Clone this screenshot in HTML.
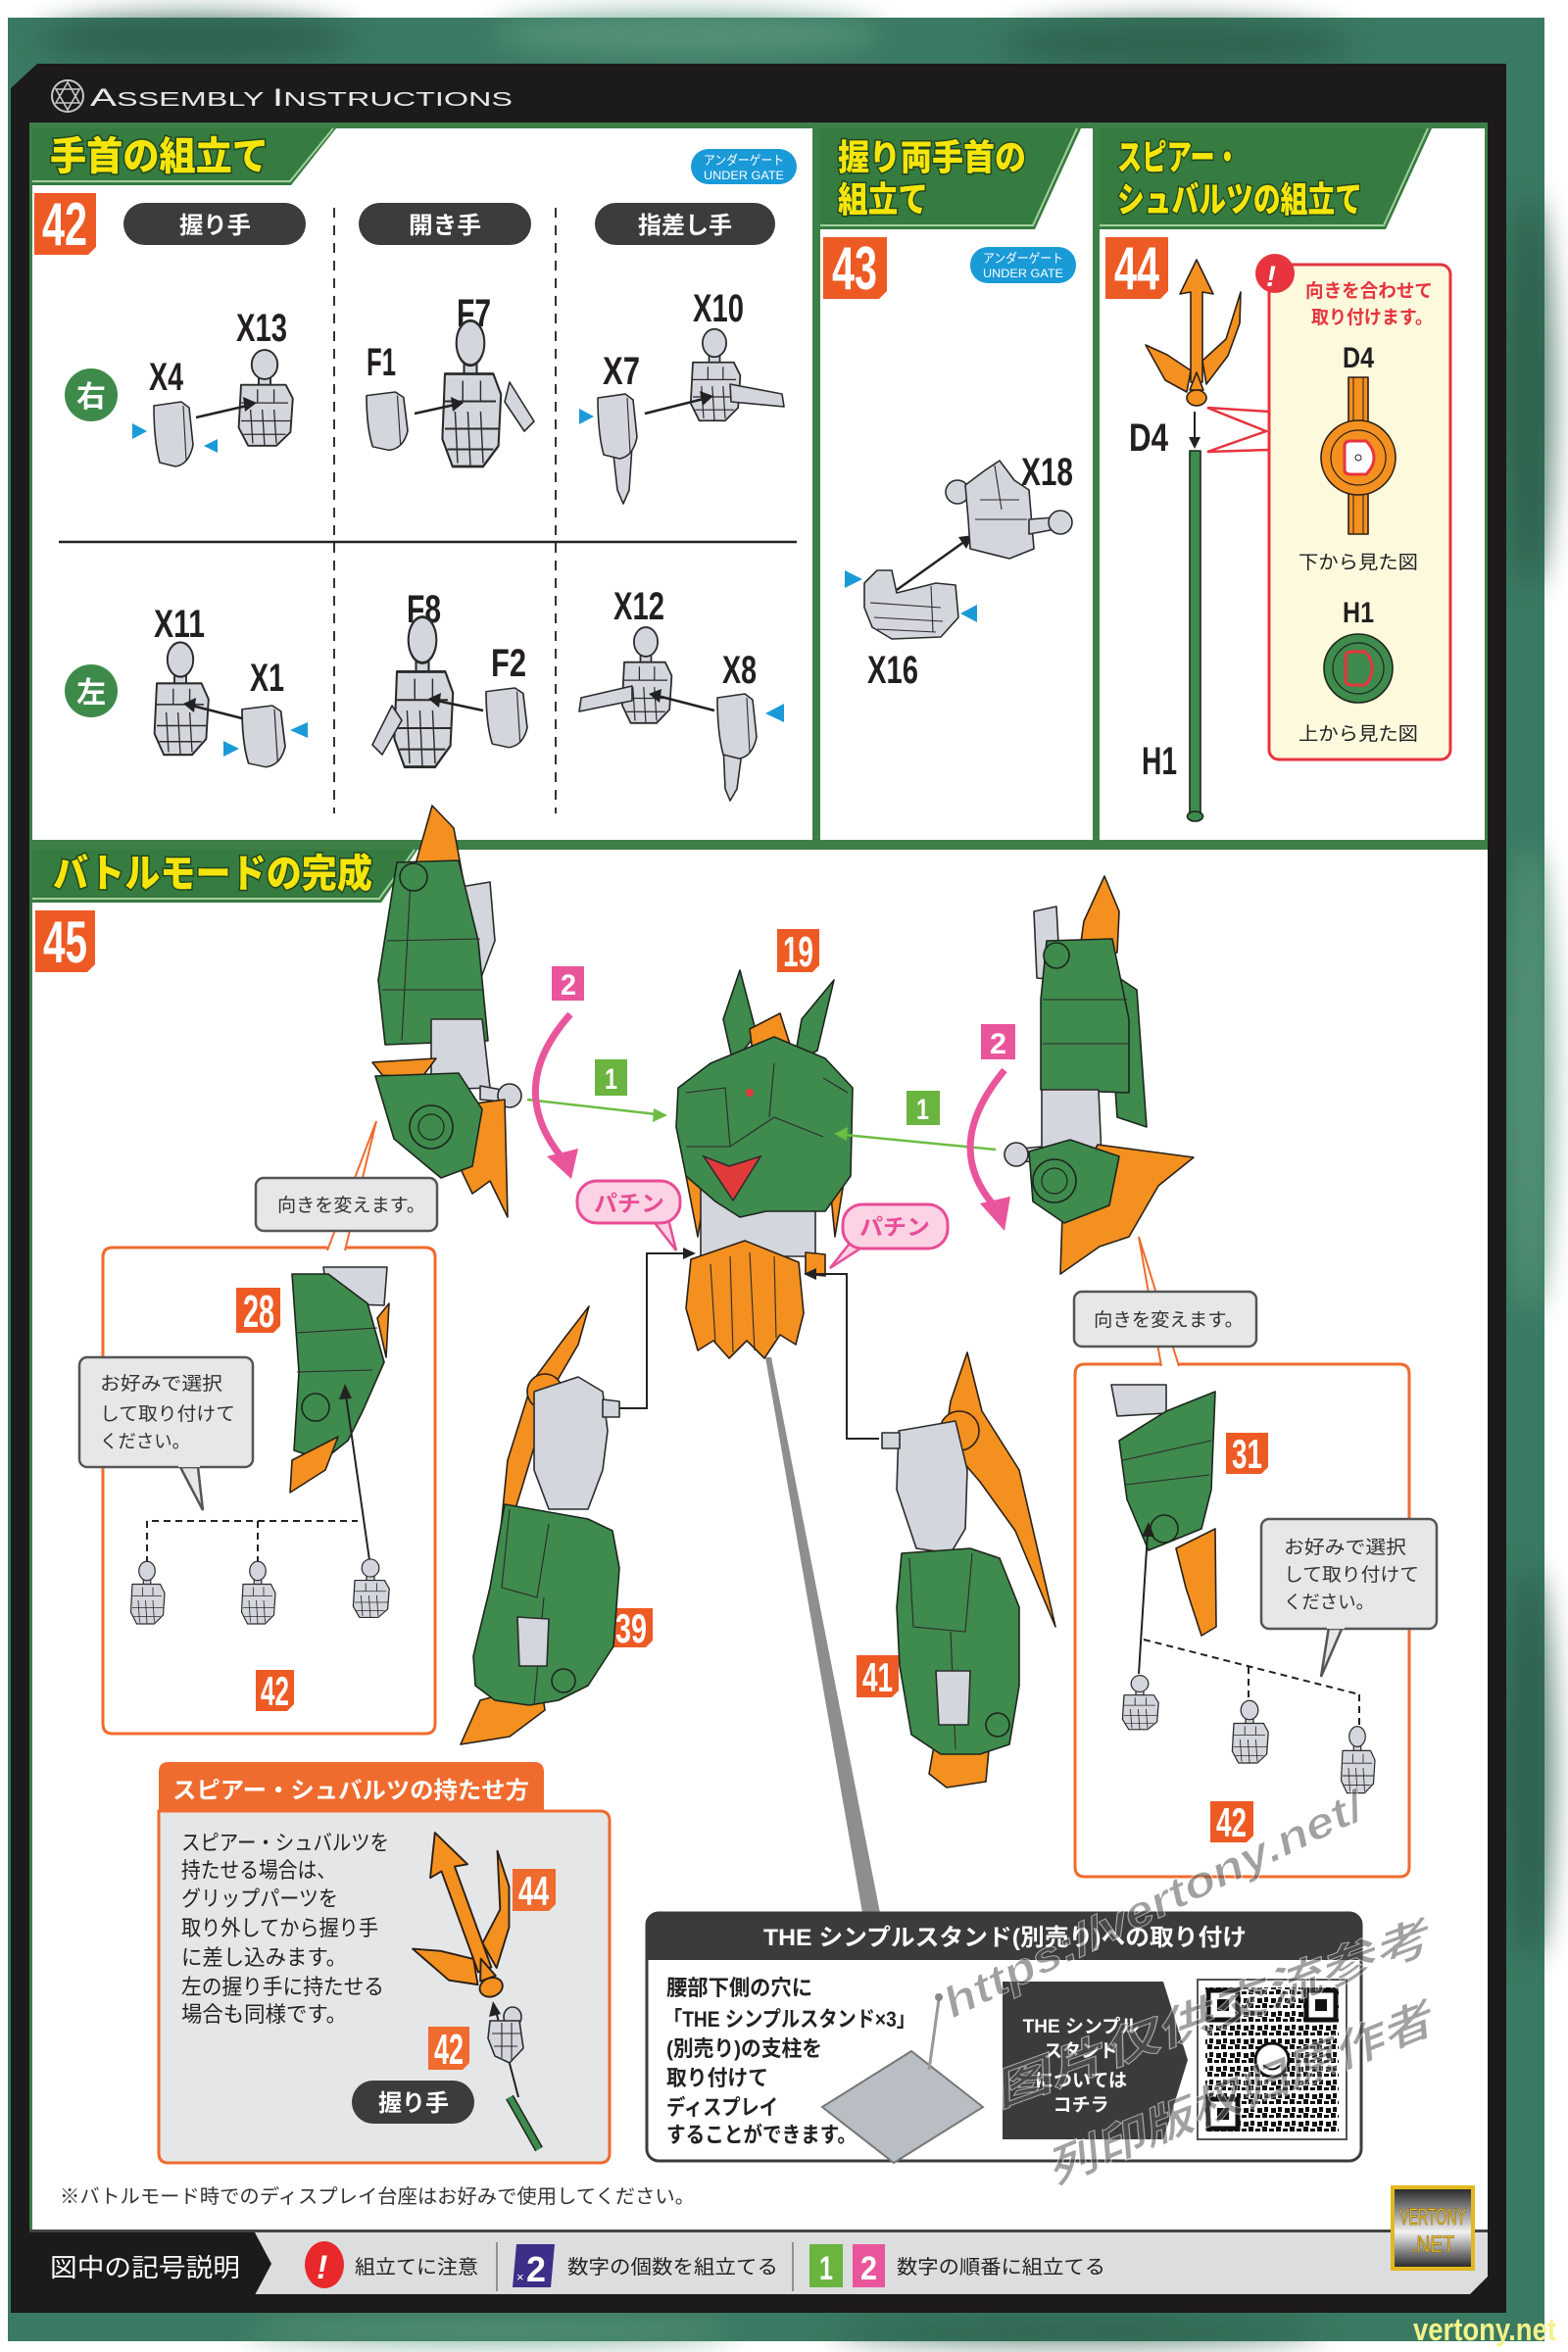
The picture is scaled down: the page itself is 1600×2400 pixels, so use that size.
<!DOCTYPE html>
<html><head><meta charset="utf-8">
<style>
html,body{margin:0;padding:0;background:#fff}
svg{display:block}
text{font-family:"Liberation Sans","Noto Sans CJK JP",sans-serif}
.g{fill:#d3d6dc;stroke:#2b2b2b;stroke-width:1.6;stroke-linejoin:round}
.gr{fill:#3f8a4d;stroke:#1c261d;stroke-width:1.6;stroke-linejoin:round}
.or{fill:#f3901f;stroke:#2b2016;stroke-width:1.6;stroke-linejoin:round}
.ln{fill:none;stroke:#2b2b2b;stroke-width:1.1}
.t{fill:#f5e50b;stroke:#1d4620;stroke-width:3;paint-order:stroke;font-family:"Noto Sans CJK JP",sans-serif;font-weight:900}
.lab{font-size:40px;fill:#231f20;font-weight:700}
.bn{fill:#fff;font-weight:700}
.pill{fill:#3d3b3d}
.pt{fill:#fff;font-weight:700;font-size:24px;font-family:"Noto Sans CJK JP",sans-serif}
.bub{fill:#e6e7e9;stroke:#555;stroke-width:2.5}
.bt{fill:#333;font-size:19px;font-family:"Noto Sans CJK JP",sans-serif}
.bk{fill:#222;font-size:22px;font-weight:700;font-family:"Noto Sans CJK JP",sans-serif}
.blu{fill:#1a9ad7}
</style></head>
<body>
<svg width="1600" height="2400" viewBox="0 0 1600 2400" xmlns="http://www.w3.org/2000/svg">
<defs>
<filter id="bl" x="-20%" y="-20%" width="140%" height="140%"><feGaussianBlur stdDeviation="14"/></filter>
<pattern id="qr" width="14" height="14" patternUnits="userSpaceOnUse">
<rect width="14" height="14" fill="#fff"/>
<rect x="0" y="0" width="5" height="5" fill="#111"/><rect x="7" y="2" width="5" height="3" fill="#111"/>
<rect x="2" y="8" width="4" height="5" fill="#111"/><rect x="9" y="9" width="5" height="5" fill="#111"/>
</pattern>
<g id="hand">
<rect x="-5" y="8" width="10" height="12" class="g"/>
<ellipse cx="0" cy="0" rx="11" ry="13" class="g"/>
<path d="M-20,18 L18,18 L24,30 L22,60 L10,72 L-14,72 L-22,56 Z" class="g"/>
<path d="M-12,40 L-10,70 M-2,40 L0,72 M8,40 L10,70 M-20,34 L20,34 M-6,22 L-6,34 M8,22 L8,34 M-20,50 L22,50 M-18,62 L18,62" class="ln"/>
</g>
<g id="cov">
<path d="M0,4 L28,0 L36,6 L40,44 Q36,64 22,66 L6,62 Q0,40 0,4Z" class="g"/>
<path d="M30,4 L33,60" class="ln"/>
</g>
<g id="spear">
<path d="M6,-40 L30,-62 L45,-110 L44,-78 L32,-45 L10,-16 Z" class="or"/>
<path d="M-6,-30 L-30,-46 L-52,-56 L-42,-38 L-32,-20 L-10,-8 Z" class="or"/>
<path d="M0,-143 L17,-108 L6,-110 L6,-18 L-6,-18 L-6,-110 L-17,-108 Z" class="or"/>
<path d="M-7,-10 L0,-28 L7,-10 Z" class="or"/>
<ellipse cx="0" cy="-2" rx="10" ry="8" class="or"/>
</g>
</defs>

<rect x="8" y="18" width="1568" height="2371" fill="#3b7a62"/>
<g filter="url(#bl)" opacity="0.75">
<ellipse cx="200" cy="40" rx="160" ry="25" fill="#2a5c48"/>
<ellipse cx="700" cy="35" rx="200" ry="22" fill="#5d9a80"/>
<ellipse cx="1200" cy="45" rx="180" ry="25" fill="#2b5d48"/>
<ellipse cx="1560" cy="400" rx="25" ry="200" fill="#2a5b47"/>
<ellipse cx="1560" cy="1100" rx="25" ry="240" fill="#5a977c"/>
<ellipse cx="1560" cy="1800" rx="25" ry="200" fill="#2b5c48"/>
<ellipse cx="500" cy="2378" rx="250" ry="14" fill="#5b987c"/>
<ellipse cx="1100" cy="2378" rx="250" ry="14" fill="#2a5c48"/>
</g>

<polygon points="38,65 1537,65 1537,2360 11,2360 11,90" fill="#1c1a1b"/>

<circle cx="69" cy="98" r="16" fill="none" stroke="#c8c8c8" stroke-width="2"/>
<polygon points="69,84 81,105 57,105" fill="none" stroke="#c8c8c8" stroke-width="1.6"/>
<polygon points="69,112 81,91 57,91" fill="none" stroke="#c8c8c8" stroke-width="1.6"/>
<text x="92" y="108" fill="#e8e8e8" font-size="20" textLength="431" lengthAdjust="spacingAndGlyphs"><tspan font-size="25">A</tspan>SSEMBLY <tspan font-size="25">I</tspan>NSTRUCTIONS</text>

<rect x="30" y="125" width="1488" height="742" fill="#3e7f48"/>
<rect x="33" y="131" width="796" height="726" fill="#fff"/>
<rect x="837" y="131" width="278" height="726" fill="#fff"/>
<rect x="1122" y="131" width="393" height="726" fill="#fff"/>
<rect x="30" y="867" width="1488" height="1410" fill="#3e7f48"/>
<rect x="33" y="867" width="1485" height="1408" fill="#fff"/>

<polygon points="33,131 343,131 297,189 33,189" fill="#367b3f"/>
<polyline points="33,185 296,185 340,131" fill="none" stroke="#a2cf9b" stroke-width="2"/>
<polygon points="837,131 1103,131 1056,234 837,234" fill="#367b3f"/>
<polyline points="837,230 1054,230 1099,131" fill="none" stroke="#a2cf9b" stroke-width="2"/>
<polygon points="1122,131 1461,131 1414,234 1122,234" fill="#367b3f"/>
<polyline points="1122,230 1412,230 1457,131" fill="none" stroke="#a2cf9b" stroke-width="2"/>
<polygon points="33,867 426,867 389,921 33,921" fill="#367b3f"/>
<polyline points="33,917 387,917 423,867" fill="none" stroke="#a2cf9b" stroke-width="2"/>

<text x="51" y="173" font-size="40" textLength="223" lengthAdjust="spacingAndGlyphs" class="t">手首の組立て</text>
<text x="855" y="173" font-size="36" textLength="192" lengthAdjust="spacingAndGlyphs" class="t">握り両手首の</text>
<text x="855" y="216" font-size="36" textLength="92" lengthAdjust="spacingAndGlyphs" class="t">組立て</text>
<text x="1140" y="173" font-size="36" textLength="125" lengthAdjust="spacingAndGlyphs" class="t">スピアー・</text>
<text x="1140" y="216" font-size="36" textLength="250" lengthAdjust="spacingAndGlyphs" class="t">シュバルツの組立て</text>
<text x="54" y="905" font-size="40" textLength="326" lengthAdjust="spacingAndGlyphs" class="t">バトルモードの完成</text>

<rect x="705" y="152" width="108" height="36" rx="18" class="blu"/>
<text x="718" y="168" font-size="13" fill="#fff" textLength="82" lengthAdjust="spacingAndGlyphs">アンダーゲート</text>
<text x="718" y="183" font-size="12" fill="#fff" textLength="82" lengthAdjust="spacingAndGlyphs">UNDER GATE</text>
<rect x="990" y="252" width="108" height="37" rx="18" class="blu"/>
<text x="1003" y="268" font-size="13" fill="#fff" textLength="82" lengthAdjust="spacingAndGlyphs">アンダーゲート</text>
<text x="1003" y="283" font-size="12" fill="#fff" textLength="82" lengthAdjust="spacingAndGlyphs">UNDER GATE</text>

<g fill="#ee5a24">
<polygon points="35,197 98,197 98,252 90,260 35,260"/>
<polygon points="840,242 905,242 905,297 897,305 840,305"/>
<polygon points="1128,242 1192,242 1192,297 1184,305 1128,305"/>
<polygon points="36,929 97,929 97,984 89,992 36,992"/>
<polygon points="793,948 836,948 836,985 829,992 793,992"/>
<polygon points="241,1314 286,1314 286,1353 279,1360 241,1360"/>
<polygon points="622,1641 666,1641 666,1674 659,1681 622,1681"/>
<polygon points="874,1689 917,1689 917,1725 910,1732 874,1732"/>
<polygon points="1251,1462 1294,1462 1294,1497 1287,1504 1251,1504"/>
<polygon points="261,1704 300,1704 300,1739 293,1746 261,1746"/>
<polygon points="1235,1838 1279,1838 1279,1873 1272,1880 1235,1880"/>
</g>
<g class="bn">
<text x="43" y="250" font-size="62" textLength="46" lengthAdjust="spacingAndGlyphs">42</text>
<text x="849" y="295" font-size="62" textLength="46" lengthAdjust="spacingAndGlyphs">43</text>
<text x="1137" y="295" font-size="62" textLength="46" lengthAdjust="spacingAndGlyphs">44</text>
<text x="44" y="982" font-size="60" textLength="45" lengthAdjust="spacingAndGlyphs">45</text>
<text x="799" y="986" font-size="44" textLength="31" lengthAdjust="spacingAndGlyphs">19</text>
<text x="248" y="1354" font-size="46" textLength="32" lengthAdjust="spacingAndGlyphs">28</text>
<text x="628" y="1676" font-size="42" textLength="32" lengthAdjust="spacingAndGlyphs">39</text>
<text x="880" y="1726" font-size="42" textLength="31" lengthAdjust="spacingAndGlyphs">41</text>
<text x="1257" y="1498" font-size="42" textLength="31" lengthAdjust="spacingAndGlyphs">31</text>
<text x="266" y="1740" font-size="42" textLength="29" lengthAdjust="spacingAndGlyphs">42</text>
<text x="1241" y="1874" font-size="42" textLength="31" lengthAdjust="spacingAndGlyphs">42</text>
</g>

<rect x="126" y="207" width="186" height="43" rx="21.5" class="pill"/>
<rect x="366" y="207" width="176" height="43" rx="21.5" class="pill"/>
<rect x="607" y="207" width="184" height="43" rx="21.5" class="pill"/>
<text x="183" y="238" class="pt" textLength="73" lengthAdjust="spacingAndGlyphs">握り手</text>
<text x="417" y="238" class="pt" textLength="74" lengthAdjust="spacingAndGlyphs">開き手</text>
<text x="651" y="238" class="pt" textLength="96" lengthAdjust="spacingAndGlyphs">指差し手</text>
<line x1="341" y1="212" x2="341" y2="830" stroke="#333" stroke-width="2" stroke-dasharray="10,8"/>
<line x1="567" y1="212" x2="567" y2="830" stroke="#333" stroke-width="2" stroke-dasharray="10,8"/>
<line x1="60" y1="553" x2="813" y2="553" stroke="#222" stroke-width="2.5"/>
<circle cx="93" cy="403" r="27" fill="#3d8a4a"/>
<text x="78" y="415" font-size="30" fill="#fff" font-weight="700">右</text>
<circle cx="93" cy="705" r="27" fill="#3d8a4a"/>
<text x="78" y="717" font-size="30" fill="#fff" font-weight="700">左</text>

<g class="lab">
<text x="152" y="398" textLength="35" lengthAdjust="spacingAndGlyphs">X4</text>
<text x="241" y="348" textLength="52" lengthAdjust="spacingAndGlyphs">X13</text>
<text x="374" y="383" textLength="30" lengthAdjust="spacingAndGlyphs">F1</text>
<text x="466" y="333" textLength="35" lengthAdjust="spacingAndGlyphs">F7</text>
<text x="615" y="392" textLength="38" lengthAdjust="spacingAndGlyphs">X7</text>
<text x="707" y="328" textLength="52" lengthAdjust="spacingAndGlyphs">X10</text>
<text x="157" y="650" textLength="52" lengthAdjust="spacingAndGlyphs">X11</text>
<text x="255" y="705" textLength="35" lengthAdjust="spacingAndGlyphs">X1</text>
<text x="415" y="635" textLength="35" lengthAdjust="spacingAndGlyphs">F8</text>
<text x="501" y="690" textLength="36" lengthAdjust="spacingAndGlyphs">F2</text>
<text x="626" y="632" textLength="52" lengthAdjust="spacingAndGlyphs">X12</text>
<text x="737" y="697" textLength="35" lengthAdjust="spacingAndGlyphs">X8</text>
<text x="1042" y="495" textLength="53" lengthAdjust="spacingAndGlyphs">X18</text>
<text x="885" y="697" textLength="52" lengthAdjust="spacingAndGlyphs">X16</text>
<text x="1152" y="460" textLength="40" lengthAdjust="spacingAndGlyphs">D4</text>
<text x="1165" y="790" textLength="36" lengthAdjust="spacingAndGlyphs">H1</text>
</g>

<use href="#cov" transform="translate(157,410)"/>
<use href="#hand" transform="translate(270,372) scale(1.2,1.15)"/>
<use href="#cov" transform="translate(374,400) scale(1.05,0.9)"/>
<use href="#hand" transform="translate(480,350) scale(1.3,1.75)"/>
<path d="M520,390 L545,430 L535,440 L515,410Z" class="g"/>
<path d="M625,455 L645,455 L642,500 L636,514 L630,500Z" class="g"/>
<use href="#cov" transform="translate(610,402)"/>
<use href="#hand" transform="translate(729,350) scale(1.1,1.1)"/>
<path d="M745,392 L798,402 L800,415 L746,410Z" class="g"/>
<use href="#hand" transform="translate(184,673) scale(1.2,1.35)"/>
<use href="#cov" transform="translate(247,720) scale(1.1,0.95)"/>
<use href="#hand" transform="translate(431,653) scale(1.3,1.8)"/>
<path d="M400,720 L380,760 L390,770 L410,735Z" class="g"/>
<use href="#cov" transform="translate(496,702) scale(1.05,0.92)"/>
<use href="#hand" transform="translate(659,655) scale(1.1,1.15)"/>
<path d="M645,700 L593,712 L591,726 L645,715Z" class="g"/>
<path d="M738,760 L758,760 L752,805 L745,817 L740,805Z" class="g"/>
<use href="#cov" transform="translate(732,708)"/>

<g stroke="#222" stroke-width="2.5">
<line x1="200" y1="426" x2="252" y2="414"/>
<line x1="423" y1="422" x2="464" y2="413"/>
<line x1="658" y1="422" x2="718" y2="407"/>
<line x1="247" y1="733" x2="196" y2="720"/>
<line x1="493" y1="725" x2="446" y2="715"/>
<line x1="729" y1="725" x2="671" y2="710"/>
<line x1="915" y1="602" x2="985" y2="552"/>
</g>
<g fill="#222">
<polygon points="262,411 248,405 250,420"/>
<polygon points="473,411 460,405 462,420"/>
<polygon points="728,404 714,399 717,414"/>
<polygon points="187,718 200,712 198,727"/>
<polygon points="437,713 450,707 448,722"/>
<polygon points="662,708 675,703 673,717"/>
<polygon points="993,546 978,548 986,560"/>
</g>
<g class="blu">
<polygon points="135,432 150,440 135,448"/>
<polygon points="222,448 222,462 208,455"/>
<polygon points="591,417 606,425 591,433"/>
<polygon points="228,756 244,764 228,772"/>
<polygon points="314,737 314,753 296,745"/>
<polygon points="800,718 800,737 781,728"/>
<polygon points="862,582 880,591 862,600"/>
<polygon points="997,617 997,635 980,626"/>
</g>

<circle cx="977" cy="502" r="12" class="g"/>
<path d="M985,495 L1005,480 L1020,470 L1035,490 L1050,500 L1055,560 L1030,570 L990,560 L988,530 Z" class="g"/>
<path d="M1050,530 L1075,528 L1077,540 L1050,545Z" class="g"/>
<circle cx="1082" cy="533" r="12" class="g"/>
<path d="M1000,510 L1040,510 M995,530 L1048,530 M1015,475 L1022,520" class="ln"/>
<path d="M882,595 L895,582 L910,582 L915,605 L955,595 L975,597 L978,630 L960,650 L910,652 L890,640 L882,620Z" class="g"/>
<path d="M888,615 L960,620 M892,630 L962,634 M895,642 L955,645 M950,598 L952,645" class="ln"/>

<use href="#spear" transform="translate(1221,408)"/>
<line x1="1219" y1="420" x2="1219" y2="448" stroke="#222" stroke-width="2"/>
<polygon points="1213,446 1225,446 1219,458" fill="#222"/>
<rect x="1214" y="460" width="11" height="372" class="gr"/>
<ellipse cx="1219.5" cy="833" rx="8" ry="5" class="gr"/>
<polyline points="1295,420 1232,416 1292,440 1232,461 1295,459" fill="none" stroke="#e7343f" stroke-width="2.5"/>
<rect x="1295" y="270" width="185" height="505" rx="10" fill="#fdf9dc" stroke="#e7343f" stroke-width="3"/>
<circle cx="1301" cy="279" r="20" fill="#e7343f"/>
<text x="1292" y="292" font-size="30" fill="#fff" font-weight="700" font-style="italic">!</text>
<text x="1332" y="303" font-size="19" fill="#e7343f" font-weight="700" textLength="130" lengthAdjust="spacingAndGlyphs">向きを合わせて</text>
<text x="1338" y="330" font-size="19" fill="#e7343f" font-weight="700" textLength="124" lengthAdjust="spacingAndGlyphs">取り付けます。</text>
<text x="1370" y="375" font-size="30" fill="#231f20" font-weight="700" textLength="32" lengthAdjust="spacingAndGlyphs">D4</text>
<rect x="1376" y="385" width="20" height="160" class="or"/>
<line x1="1381" y1="385" x2="1381" y2="545" stroke="#2b2016" stroke-width="1"/>
<line x1="1391" y1="385" x2="1391" y2="545" stroke="#2b2016" stroke-width="1"/>
<circle cx="1386" cy="467" r="38" class="or"/>
<circle cx="1386" cy="467" r="28" fill="none" stroke="#2b2016" stroke-width="1.2"/>
<path d="M1372,455 Q1372,450 1378,450 L1394,450 Q1402,458 1402,467 Q1402,476 1394,484 L1378,484 Q1372,484 1372,479Z" fill="#fff" stroke="#e7343f" stroke-width="3"/>
<circle cx="1386" cy="467" r="3" fill="none" stroke="#2b2016"/>
<text x="1325" y="580" font-size="19" fill="#222" textLength="122" lengthAdjust="spacingAndGlyphs">下から見た図</text>
<text x="1370" y="635" font-size="30" fill="#231f20" font-weight="700" textLength="32" lengthAdjust="spacingAndGlyphs">H1</text>
<circle cx="1386" cy="682" r="35" class="gr"/>
<circle cx="1386" cy="682" r="26" fill="none" stroke="#1c261d" stroke-width="1.2"/>
<path d="M1373,670 Q1373,665 1379,665 L1393,665 Q1400,672 1400,682 Q1400,692 1393,699 L1379,699 Q1373,699 1373,694Z" fill="#3f8a4d" stroke="#e7343f" stroke-width="3"/>
<text x="1325" y="755" font-size="19" fill="#222" textLength="122" lengthAdjust="spacingAndGlyphs">上から見た図</text>

<polygon points="781,1385 787,1385 898,1952 880,1952" fill="#8e8e8e"/>

<path d="M441,822 L463,845 L474,905 L455,975 L420,990 L416,910Z" class="or"/>
<path d="M470,905 L500,900 L505,960 L490,1000 L465,990Z" class="g"/>
<path d="M405,880 L468,878 L488,960 L498,1062 L393,1066 L386,1000Z" class="gr"/>
<path d="M395,960 L490,958 M390,1010 L494,1010 M420,880 L410,1062" class="ln"/>
<circle cx="422" cy="895" r="14" class="gr"/>
<path d="M440,1040 L492,1040 L500,1110 L440,1112Z" class="g"/>
<path d="M490,1108 L512,1112 L512,1124 L490,1122Z" class="g"/>
<circle cx="520" cy="1118" r="12" class="g"/>
<path d="M380,1084 L445,1080 L430,1100 L390,1097Z" class="or"/>
<path d="M454,1130 L515,1122 L518,1242 L500,1205 L482,1218 L462,1176Z" class="or"/>
<path d="M383,1098 L468,1095 L492,1132 L482,1190 L450,1202 L402,1162Z" class="gr"/>
<circle cx="440" cy="1150" r="22" class="gr"/>
<circle cx="440" cy="1150" r="13" fill="none" stroke="#1c261d" stroke-width="1.2"/>

<path d="M1127,894 L1142,930 L1140,972 L1100,982 L1106,940Z" class="or"/>
<path d="M1055,930 L1078,925 L1082,1000 L1058,998Z" class="g"/>
<path d="M1130,990 L1160,1010 L1170,1150 L1140,1140Z" class="gr"/>
<path d="M1068,960 L1135,958 L1152,1040 L1152,1115 L1062,1112 L1062,1020Z" class="gr"/>
<path d="M1064,1020 L1150,1020 M1064,1065 L1152,1065" class="ln"/>
<circle cx="1078" cy="975" r="13" class="gr"/>
<path d="M1063,1112 L1121,1112 L1124,1180 L1063,1182Z" class="g"/>
<path d="M1042,1172 L1063,1170 L1063,1186 L1042,1185Z" class="g"/>
<circle cx="1037" cy="1178" r="12" class="g"/>
<path d="M1120,1168 L1218,1181 L1182,1210 L1152,1262 L1122,1272 L1082,1300 L1084,1240Z" class="or"/>
<path d="M1050,1175 L1092,1163 L1142,1180 L1132,1230 L1086,1248 L1054,1226Z" class="gr"/>
<circle cx="1076" cy="1205" r="22" class="gr"/>
<circle cx="1076" cy="1205" r="13" fill="none" stroke="#1c261d" stroke-width="1.2"/>

<path d="M755,990 L772,1055 L748,1085 L738,1040Z" class="gr"/>
<path d="M851,1000 L834,1072 L810,1085 L818,1040Z" class="gr"/>
<path d="M765,1050 L796,1034 L808,1072 L770,1090Z" class="or"/>
<path d="M700,1200 L712,1262 L722,1200Z" class="or"/>
<path d="M846,1200 L852,1262 L862,1200Z" class="or"/>
<path d="M715,1205 L832,1205 L832,1282 L715,1282Z" class="g"/>
<path d="M692,1110 L725,1085 L790,1058 L842,1080 L870,1110 L868,1200 L842,1236 L782,1236 L755,1242 L730,1226 L700,1200 L690,1150Z" class="gr"/>
<path d="M700,1115 L740,1110 L745,1170 L700,1170 M840,1100 L865,1115 M745,1170 L790,1140 L840,1160 M790,1085 L785,1140" class="ln"/>
<path d="M718,1180 L744,1190 L776,1180 L748,1225Z" fill="#e03a3a" stroke="#2b2b2b" stroke-width="1.5"/>
<circle cx="765" cy="1115" r="4" fill="#e03a3a"/>
<path d="M822,1278 L842,1280 L842,1302 L822,1300Z" class="or"/>
<path d="M705,1285 L760,1266 L815,1288 L820,1340 L812,1372 L796,1362 L780,1386 L762,1368 L744,1386 L728,1368 L712,1378 L700,1335Z" class="or"/>
<path d="M725,1290 L730,1370 M745,1282 L748,1380 M765,1278 L770,1378 M790,1282 L792,1365" class="ln"/>

<polyline points="628,1437 660,1437 660,1279 700,1279" fill="none" stroke="#222" stroke-width="2"/>
<polygon points="710,1279 697,1273 697,1285" fill="#222"/>
<polyline points="897,1468 864,1468 864,1300 830,1300" fill="none" stroke="#222" stroke-width="2"/>
<polygon points="820,1300 833,1294 833,1306" fill="#222"/>

<line x1="538" y1="1122" x2="670" y2="1137" stroke="#6dbd44" stroke-width="2.5"/>
<polygon points="681,1138 667,1131 666,1145" fill="#6dbd44"/>
<line x1="1016" y1="1173" x2="862" y2="1158" stroke="#6dbd44" stroke-width="2.5"/>
<polygon points="851,1157 865,1150 864,1164" fill="#6dbd44"/>
<path d="M582,1035 Q515,1110 574,1182" fill="none" stroke="#e9559b" stroke-width="7"/>
<polygon points="558,1180 590,1172 583,1203" fill="#e9559b"/>
<path d="M1025,1092 Q960,1170 1016,1232" fill="none" stroke="#e9559b" stroke-width="7"/>
<polygon points="1000,1228 1031,1221 1025,1256" fill="#e9559b"/>
<rect x="563" y="986" width="33" height="35" fill="#e9559b"/>
<text x="572" y="1015" font-size="30" class="bn" textLength="16" lengthAdjust="spacingAndGlyphs">2</text>
<rect x="1001" y="1045" width="35" height="36" fill="#e9559b"/>
<text x="1010" y="1075" font-size="30" class="bn" textLength="17" lengthAdjust="spacingAndGlyphs">2</text>
<rect x="607" y="1081" width="33" height="37" fill="#6ab43f"/>
<text x="617" y="1111" font-size="30" class="bn" textLength="13" lengthAdjust="spacingAndGlyphs">1</text>
<rect x="925" y="1113" width="34" height="35" fill="#6ab43f"/>
<text x="935" y="1142" font-size="30" class="bn" textLength="13" lengthAdjust="spacingAndGlyphs">1</text>

<path d="M665,1244 L690,1276 L682,1244Z" fill="#fbd3e5" stroke="#e84d96" stroke-width="2.5"/>
<rect x="589" y="1205" width="105" height="43" rx="20" fill="#fbd3e5" stroke="#e84d96" stroke-width="3"/>
<text x="606" y="1236" font-size="23" fill="#e84d96" font-weight="700" textLength="72" lengthAdjust="spacingAndGlyphs">パチン</text>
<path d="M866,1270 L847,1294 L884,1270Z" fill="#fbd3e5" stroke="#e84d96" stroke-width="2.5"/>
<rect x="860" y="1229" width="107" height="45" rx="20" fill="#fbd3e5" stroke="#e84d96" stroke-width="3"/>
<text x="877" y="1260" font-size="23" fill="#e84d96" font-weight="700" textLength="72" lengthAdjust="spacingAndGlyphs">パチン</text>

<path d="M601,1333 L590,1372 L562,1420 L532,1520 L507,1600 L518,1490 L543,1410 L574,1368Z" class="or"/>
<circle cx="556" cy="1420" r="18" class="or"/>
<path d="M545,1420 L590,1405 L615,1420 L620,1460 L615,1500 L600,1540 L560,1540 L545,1500Z" class="g"/>
<path d="M615,1428 L632,1430 L632,1446 L615,1446Z" class="g"/>
<path d="M490,1735 L552,1718 L556,1745 L520,1772 L470,1780Z" class="or"/>
<path d="M515,1535 L600,1550 L625,1562 L632,1600 L626,1680 L600,1720 L570,1735 L540,1740 L505,1735 L485,1720 L483,1690 L500,1620Z" class="gr"/>
<path d="M520,1540 L512,1620 L548,1630 L560,1555 M555,1630 L545,1740" class="ln"/>
<path d="M528,1650 L560,1652 L558,1700 L530,1700Z" class="g"/>
<circle cx="575" cy="1715" r="12" class="gr"/>

<path d="M987,1380 L1002,1440 L1040,1500 L1077,1660 L1036,1562 L1000,1512 L964,1470 L970,1430Z" class="or"/>
<circle cx="979" cy="1460" r="20" class="or"/>
<path d="M917,1460 L975,1450 L987,1500 L985,1560 L970,1585 L935,1580 L915,1520Z" class="g"/>
<path d="M900,1462 L918,1462 L918,1478 L900,1478Z" class="g"/>
<path d="M955,1770 L1010,1775 L1006,1818 L966,1824 L948,1810Z" class="or"/>
<path d="M920,1585 L990,1580 L1020,1590 L1040,1640 L1040,1720 L1030,1780 L1000,1790 L960,1790 L930,1770 L918,1700 L915,1640Z" class="gr"/>
<path d="M928,1590 L932,1660 L985,1665 L992,1585 M970,1665 L975,1785" class="ln"/>
<path d="M955,1705 L990,1705 L988,1760 L958,1760Z" class="g"/>
<circle cx="1018" cy="1760" r="12" class="gr"/>

<polyline points="334,1276 384,1144 352,1276" fill="none" stroke="#ef6b2e" stroke-width="2"/>
<polyline points="1185,1394 1162,1262 1203,1394" fill="none" stroke="#ef6b2e" stroke-width="2"/>
<path d="M334,1273 L115,1273 Q105,1273 105,1283 L105,1759 Q105,1769 115,1769 L434,1769 Q444,1769 444,1759 L444,1283 Q444,1273 434,1273 L352,1273" fill="none" stroke="#ef6b2e" stroke-width="3"/>
<path d="M1185,1392 L1107,1392 Q1097,1392 1097,1402 L1097,1905 Q1097,1915 1107,1915 L1428,1915 Q1438,1915 1438,1905 L1438,1402 Q1438,1392 1428,1392 L1203,1392" fill="none" stroke="#ef6b2e" stroke-width="3"/>
<rect x="261" y="1202" width="185" height="54" rx="8" class="bub"/>
<text x="283" y="1236" class="bt" font-size="20" textLength="151" lengthAdjust="spacingAndGlyphs">向きを変えます。</text>
<rect x="1096" y="1318" width="186" height="56" rx="8" class="bub"/>
<text x="1116" y="1353" class="bt" font-size="20" textLength="153" lengthAdjust="spacingAndGlyphs">向きを変えます。</text>

<path d="M330,1293 L395,1293 L392,1332 L335,1330Z" class="g"/>
<path d="M385,1345 L397,1330 L394,1385Z" class="or"/>
<path d="M298,1300 L335,1300 L375,1330 L392,1390 L370,1440 L355,1470 L330,1490 L300,1480 L305,1400Z" class="gr"/>
<path d="M302,1360 L385,1355 M303,1400 L380,1398" class="ln"/>
<circle cx="322" cy="1436" r="14" class="gr"/>
<path d="M298,1490 L345,1466 L332,1500 L296,1523Z" class="or"/>
<line x1="377" y1="1592" x2="353" y2="1424" stroke="#222" stroke-width="2"/>
<polygon points="352,1412 346,1428 359,1427" fill="#222"/>
<polyline points="150,1595 150,1552 365,1552" fill="none" stroke="#222" stroke-width="2" stroke-dasharray="7,5"/>
<line x1="263" y1="1552" x2="263" y2="1595" stroke="#222" stroke-width="2" stroke-dasharray="7,5"/>
<use href="#hand" transform="translate(150,1603) scale(0.75)"/>
<use href="#hand" transform="translate(263,1603) scale(0.75)"/>
<use href="#hand" transform="translate(378,1600) scale(0.8,0.7)"/>
<path d="M184,1497 L207,1541 L202,1497Z" class="bub"/>
<rect x="81" y="1385" width="177" height="112" rx="8" class="bub"/>
<path d="M182,1495 L204,1495" stroke="#e6e7e9" stroke-width="4"/>
<text x="102" y="1418" class="bt" textLength="125" lengthAdjust="spacingAndGlyphs">お好みで選択</text>
<text x="102" y="1449" class="bt" textLength="138" lengthAdjust="spacingAndGlyphs">して取り付けて</text>
<text x="102" y="1477" class="bt" textLength="92" lengthAdjust="spacingAndGlyphs">ください。</text>

<path d="M1134,1413 L1190,1413 L1190,1442 L1140,1445Z" class="g"/>
<path d="M1200,1580 L1240,1560 L1241,1660 L1226,1669 L1210,1620Z" class="or"/>
<path d="M1142,1470 L1190,1440 L1240,1420 L1236,1520 L1226,1560 L1172,1582 L1150,1530Z" class="gr"/>
<path d="M1146,1490 L1236,1470 M1148,1515 L1234,1505" class="ln"/>
<circle cx="1188" cy="1560" r="14" class="gr"/>
<line x1="1162" y1="1708" x2="1171" y2="1565" stroke="#222" stroke-width="2"/>
<polygon points="1172,1553 1165,1568 1178,1568" fill="#222"/>
<line x1="1167" y1="1673" x2="1387" y2="1729" stroke="#222" stroke-width="2" stroke-dasharray="7,5"/>
<line x1="1274" y1="1701" x2="1274" y2="1735" stroke="#222" stroke-width="2" stroke-dasharray="7,5"/>
<line x1="1387" y1="1729" x2="1387" y2="1762" stroke="#222" stroke-width="2" stroke-dasharray="7,5"/>
<use href="#hand" transform="translate(1163,1718) scale(0.8,0.65)"/>
<use href="#hand" transform="translate(1275,1745) scale(0.8,0.75)"/>
<use href="#hand" transform="translate(1385,1772) scale(0.75,0.8)"/>
<path d="M1356,1660 L1348,1711 L1370,1660Z" class="bub"/>
<rect x="1287" y="1550" width="179" height="112" rx="8" class="bub"/>
<path d="M1354,1660 L1372,1660" stroke="#e6e7e9" stroke-width="4"/>
<text x="1310" y="1585" class="bt" textLength="125" lengthAdjust="spacingAndGlyphs">お好みで選択</text>
<text x="1310" y="1613" class="bt" textLength="138" lengthAdjust="spacingAndGlyphs">して取り付けて</text>
<text x="1310" y="1641" class="bt" textLength="92" lengthAdjust="spacingAndGlyphs">ください。</text>

<path d="M162,1808 Q162,1798 172,1798 L545,1798 Q555,1798 555,1808 L555,1850 L162,1850Z" fill="#ef6b2e"/>
<text x="176" y="1835" font-size="24" fill="#fff" font-weight="700" textLength="364" lengthAdjust="spacingAndGlyphs">スピアー・シュバルツの持たせ方</text>
<path d="M162,1848 L612,1848 Q622,1848 622,1858 L622,2197 Q622,2207 612,2207 L172,2207 Q162,2207 162,2197Z" fill="#e5e6e8" stroke="#ef6b2e" stroke-width="3"/>
<g font-size="22" fill="#222" font-family="Noto Sans CJK JP,sans-serif">
<text x="185" y="1888" textLength="212" lengthAdjust="spacingAndGlyphs">スピアー・シュバルツを</text>
<text x="185" y="1916" textLength="158" lengthAdjust="spacingAndGlyphs">持たせる場合は、</text>
<text x="185" y="1945" textLength="160" lengthAdjust="spacingAndGlyphs">グリップパーツを</text>
<text x="185" y="1975" textLength="201" lengthAdjust="spacingAndGlyphs">取り外してから握り手</text>
<text x="185" y="2005" textLength="169" lengthAdjust="spacingAndGlyphs">に差し込みます。</text>
<text x="185" y="2035" textLength="207" lengthAdjust="spacingAndGlyphs">左の握り手に持たせる</text>
<text x="185" y="2063" textLength="169" lengthAdjust="spacingAndGlyphs">場合も同様です。</text>
</g>
<g fill="#ef6b2e"><polygon points="523,1907 567,1907 567,1943 560,1950 523,1950"/><polygon points="437,2068 479,2068 479,2105 472,2112 437,2112"/></g>
<text x="529" y="1944" font-size="42" class="bn" textLength="31" lengthAdjust="spacingAndGlyphs">44</text>
<text x="443" y="2106" font-size="44" class="bn" textLength="30" lengthAdjust="spacingAndGlyphs">42</text>
<use href="#spear" transform="translate(502,2030) rotate(-20) scale(1.19)"/>
<line x1="520" y1="2140" x2="550" y2="2193" stroke="#1c261d" stroke-width="9"/>
<line x1="520" y1="2140" x2="550" y2="2193" stroke="#3f8a4d" stroke-width="6"/>
<line x1="529" y1="2140" x2="506" y2="2052" stroke="#222" stroke-width="2"/>
<polygon points="503,2042 499,2058 511,2055" fill="#222"/>
<ellipse cx="523" cy="2058" rx="9" ry="10" class="g"/>
<path d="M500,2062 L530,2062 L534,2090 L520,2105 L505,2098 L498,2080Z" class="g"/>
<path d="M502,2075 L532,2075 M504,2088 L528,2088 M512,2064 L512,2100 M522,2064 L522,2102" class="ln"/>
<rect x="359" y="2123" width="125" height="44" rx="22" class="pill"/>
<text x="386" y="2154" class="pt" textLength="72" lengthAdjust="spacingAndGlyphs">握り手</text>

<rect x="660" y="1952" width="729" height="253" rx="12" fill="#fff" stroke="#3d3a3b" stroke-width="3"/>
<path d="M672,1952 L1377,1952 Q1389,1952 1389,1964 L1389,2000 L660,2000 L660,1964 Q660,1952 672,1952Z" fill="#3d3a3b"/>
<text x="779" y="1985" font-size="24" fill="#fff" font-weight="700" textLength="493" lengthAdjust="spacingAndGlyphs">THE シンプルスタンド(別売り)への取り付け</text>
<g class="bk">
<text x="680" y="2036" textLength="149" lengthAdjust="spacingAndGlyphs">腰部下側の穴に</text>
<text x="677" y="2068" textLength="257" lengthAdjust="spacingAndGlyphs">「THE シンプルスタンド×3」</text>
<text x="680" y="2098" textLength="159" lengthAdjust="spacingAndGlyphs">(別売り)の支柱を</text>
<text x="680" y="2128" textLength="104" lengthAdjust="spacingAndGlyphs">取り付けて</text>
<text x="680" y="2158" textLength="114" lengthAdjust="spacingAndGlyphs">ディスプレイ</text>
<text x="680" y="2186" textLength="194" lengthAdjust="spacingAndGlyphs">することができます。</text>
</g>
<polygon points="839,2150 930,2093 1003,2150 912,2207" fill="#b9bec4" stroke="#777" stroke-width="2"/>
<line x1="958" y1="2040" x2="948" y2="2112" stroke="#999" stroke-width="3"/>
<circle cx="958" cy="2038" r="4" fill="#888"/>
<polygon points="1023,2022 1187,2022 1212,2102 1187,2183 1023,2183" fill="#3d3a3b"/>
<g fill="#fff" font-size="19" font-weight="700" text-anchor="middle">
<text x="1103" y="2074">THE シンプル</text>
<text x="1103" y="2099">スタンド</text>
<text x="1103" y="2129">については</text>
<text x="1103" y="2154">コチラ</text>
</g>
<rect x="1222" y="2020" width="152" height="163" fill="#fff" stroke="#555" stroke-width="2"/>
<rect x="1230" y="2028" width="136" height="147" fill="url(#qr)"/>
<g fill="#fff" stroke="#111" stroke-width="5">
<rect x="1233" y="2031" width="30" height="30"/><rect x="1333" y="2031" width="30" height="30"/><rect x="1233" y="2142" width="30" height="30"/>
</g>
<g fill="#111"><rect x="1242" y="2040" width="12" height="12"/><rect x="1342" y="2040" width="12" height="12"/><rect x="1242" y="2151" width="12" height="12"/></g>
<circle cx="1298" cy="2102" r="17" fill="#fff" stroke="#111" stroke-width="3"/>
<path d="M1289,2107 Q1298,2116 1307,2107" fill="none" stroke="#111" stroke-width="2"/>

<g opacity="0.55" fill="#555" stroke="#fff" stroke-width="1" font-style="italic" font-weight="700">
<text x="0" y="0" font-size="44" transform="translate(972,2060) rotate(-26)" textLength="470" lengthAdjust="spacingAndGlyphs">https://vertony.net/</text>
<text x="0" y="0" font-size="44" font-family="Noto Sans CJK SC,sans-serif" transform="translate(1020,2150) rotate(-20)" textLength="470" lengthAdjust="spacingAndGlyphs">图片仅供交流参考</text>
<text x="0" y="0" font-size="44" font-family="Noto Sans CJK SC,sans-serif" transform="translate(1075,2230) rotate(-22)" textLength="420" lengthAdjust="spacingAndGlyphs">列印版权归原作者</text>
</g>

<text x="61" y="2248" font-size="20" fill="#333" textLength="648" lengthAdjust="spacingAndGlyphs" font-family="Noto Sans CJK JP,sans-serif">※バトルモード時でのディスプレイ台座はお好みで使用してください。</text>

<rect x="30" y="2275" width="1488" height="3" fill="#444"/>
<polygon points="260,2278 1518,2278 1518,2323 1500,2341 260,2341" fill="#dcdddf"/>
<polygon points="30,2278 260,2278 277,2310 260,2342 30,2342" fill="#1c1a1b"/>
<text x="51" y="2323" font-size="26" fill="#fff" textLength="194" lengthAdjust="spacingAndGlyphs" font-family="Noto Sans CJK JP,sans-serif">図中の記号説明</text>
<ellipse cx="331" cy="2311" rx="20" ry="24" fill="#e8282b"/>
<text x="323" y="2325" font-size="34" fill="#fff" font-weight="700" font-style="italic">!</text>
<text x="362" y="2320" font-size="20" fill="#222" textLength="126" lengthAdjust="spacingAndGlyphs" font-family="Noto Sans CJK JP,sans-serif">組立てに注意</text>
<line x1="507" y1="2288" x2="507" y2="2338" stroke="#777" stroke-width="1.5"/>
<polygon points="527,2290 566,2290 562,2334 523,2334" fill="#3b2f88"/>
<text x="527" y="2328" font-size="13" fill="#fff">×</text>
<text x="537" y="2328" font-size="36" fill="#fff" font-weight="700" textLength="20" lengthAdjust="spacingAndGlyphs">2</text>
<text x="579" y="2320" font-size="20" fill="#222" textLength="215" lengthAdjust="spacingAndGlyphs" font-family="Noto Sans CJK JP,sans-serif">数字の個数を組立てる</text>
<line x1="809" y1="2288" x2="809" y2="2338" stroke="#777" stroke-width="1.5"/>
<rect x="826" y="2290" width="34" height="44" fill="#6ab43f"/>
<text x="836" y="2326" font-size="34" fill="#fff" font-weight="700" textLength="14" lengthAdjust="spacingAndGlyphs">1</text>
<rect x="870" y="2290" width="33" height="44" fill="#e9559b"/>
<text x="878" y="2326" font-size="34" fill="#fff" font-weight="700" textLength="17" lengthAdjust="spacingAndGlyphs">2</text>
<text x="915" y="2320" font-size="20" fill="#222" textLength="213" lengthAdjust="spacingAndGlyphs" font-family="Noto Sans CJK JP,sans-serif">数字の順番に組立てる</text>

<linearGradient id="vg" x1="0" y1="0" x2="0" y2="1"><stop offset="0" stop-color="#222"/><stop offset="0.55" stop-color="#f2f2f2"/><stop offset="1" stop-color="#222"/></linearGradient>
<rect x="1421" y="2232" width="82" height="83" fill="url(#vg)" stroke="#e3b81e" stroke-width="4"/>
<text x="1428" y="2270" font-size="24" fill="#f1c232" stroke="#7a5a00" stroke-width="0.6" textLength="68" lengthAdjust="spacingAndGlyphs">VERTONY</text>
<text x="1440" y="2298" font-size="24" fill="#f1c232" stroke="#7a5a00" stroke-width="0.6" textLength="44" lengthAdjust="spacingAndGlyphs">.NET</text>
<text x="1442" y="2388" font-size="32" fill="#f4f28a" font-weight="700" textLength="146" lengthAdjust="spacingAndGlyphs">vertony.net</text>
</svg>
</body></html>
